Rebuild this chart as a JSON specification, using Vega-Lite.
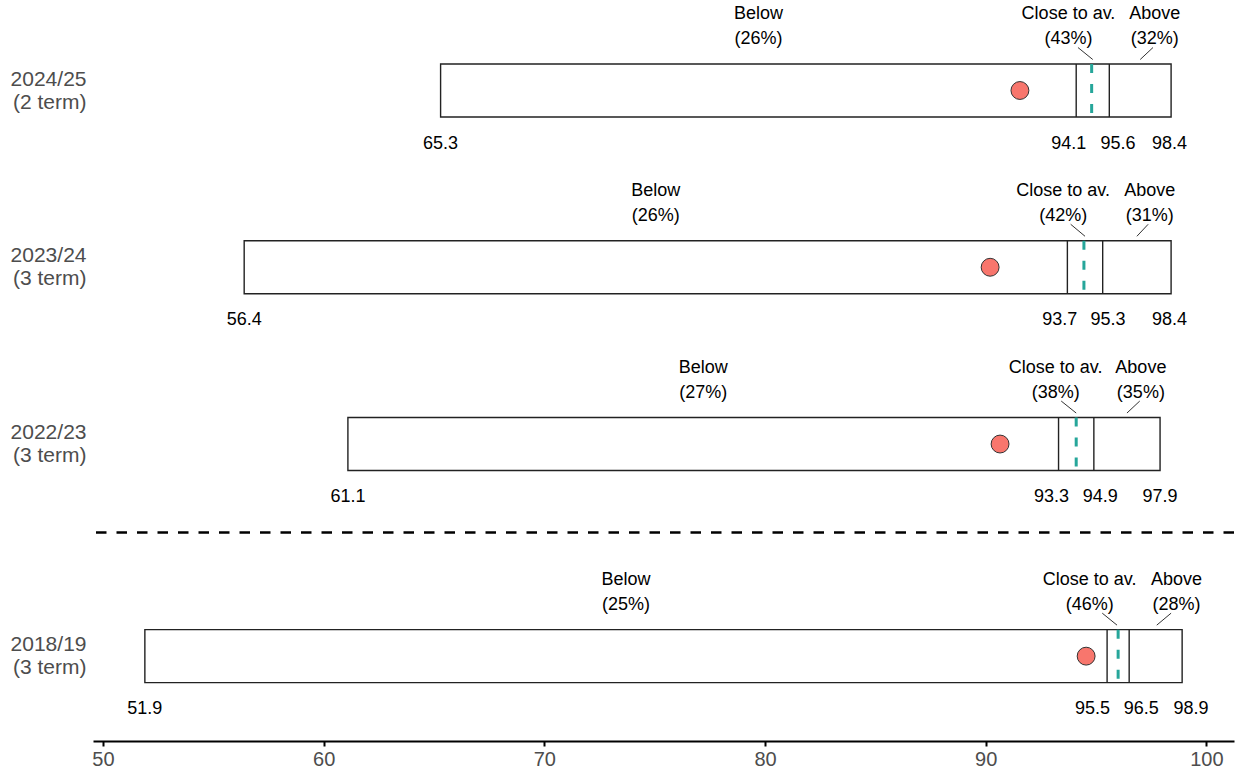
{
  "$schema": "https://vega.github.io/schema/vega-lite/v6.json",
  "width": 1141,
  "height": 741,
  "autosize": "none",
  "padding": {"left": 93, "top": 0, "right": 7, "bottom": 35},
  "background": "white",
  "config": {
    "view": {"stroke": null},
    "font": "Liberation Sans",
    "axis": {"labelFont": "Liberation Sans", "grid": false}
  },
  "datasets": {
    "rows": [
      {"year": "2024/25", "row": 4, "min": 65.3, "lo": 94.1, "hi": 95.6, "max": 98.4, "avg": 94.8, "school": 91.55},
      {"year": "2023/24", "row": 3, "min": 56.4, "lo": 93.7, "hi": 95.3, "max": 98.4, "avg": 94.45, "school": 90.2},
      {"year": "2022/23", "row": 2, "min": 61.1, "lo": 93.3, "hi": 94.9, "max": 97.9, "avg": 94.1, "school": 90.65},
      {"year": "2018/19", "row": 0.8, "min": 51.9, "lo": 95.5, "hi": 96.5, "max": 98.9, "avg": 96.0, "school": 94.55}
    ],
    "toplabels": [
      {"row": 4, "x": 79.7, "label": "Below\n(26%)"},
      {"row": 4, "x": 93.75, "label": "Close to av.\n(43%)", "from": 94.18, "to": 94.85},
      {"row": 4, "x": 97.66, "label": "Above\n(32%)", "from": 97.58, "to": 97.0},
      {"row": 3, "x": 75.05, "label": "Below\n(26%)"},
      {"row": 3, "x": 93.51, "label": "Close to av.\n(42%)", "from": 93.85, "to": 94.5},
      {"row": 3, "x": 97.43, "label": "Above\n(31%)", "from": 97.36, "to": 96.85},
      {"row": 2, "x": 77.2, "label": "Below\n(27%)"},
      {"row": 2, "x": 93.17, "label": "Close to av.\n(38%)", "from": 93.42, "to": 94.1},
      {"row": 2, "x": 97.03, "label": "Above\n(35%)", "from": 96.98, "to": 96.4},
      {"row": 0.8, "x": 73.7, "label": "Below\n(25%)"},
      {"row": 0.8, "x": 94.71, "label": "Close to av.\n(46%)", "from": 95.28, "to": 95.95},
      {"row": 0.8, "x": 98.64, "label": "Above\n(28%)", "from": 98.4, "to": 97.75}
    ],
    "numlabels": [
      {"row": 4, "x": 65.3, "value": "65.3"},
      {"row": 4, "x": 93.76, "value": "94.1"},
      {"row": 4, "x": 95.99, "value": "95.6"},
      {"row": 4, "x": 98.33, "value": "98.4"},
      {"row": 3, "x": 56.4, "value": "56.4"},
      {"row": 3, "x": 93.35, "value": "93.7"},
      {"row": 3, "x": 95.54, "value": "95.3"},
      {"row": 3, "x": 98.33, "value": "98.4"},
      {"row": 2, "x": 61.1, "value": "61.1"},
      {"row": 2, "x": 92.98, "value": "93.3"},
      {"row": 2, "x": 95.19, "value": "94.9"},
      {"row": 2, "x": 97.9, "value": "97.9"},
      {"row": 0.8, "x": 51.9, "value": "51.9"},
      {"row": 0.8, "x": 94.84, "value": "95.5"},
      {"row": 0.8, "x": 97.05, "value": "96.5"},
      {"row": 0.8, "x": 99.3, "value": "98.9"}
    ],
    "separator": [{"row": 1.5}]
  },
  "encoding": {
    "y": {
      "field": "row",
      "type": "quantitative",
      "scale": {"domain": [0.32, 4.512], "nice": false, "zero": false},
      "axis": {
        "values": [4, 3, 2, 0.8],
        "labelExpr": "datum.value == 4 ? ['2024/25', '(2 term)'] : datum.value == 3 ? ['2023/24', '(3 term)'] : datum.value == 2 ? ['2022/23', '(3 term)'] : ['2018/19', '(3 term)']",
        "domain": false,
        "ticks": false,
        "grid": false,
        "labelColor": "#4D4D4D",
        "labelFontSize": 21,
        "labelLineHeight": 23,
        "labelPadding": 7,
        "labelAlign": "right",
        "labelBaseline": "middle",
        "labelOffset": -11.5,
        "title": null
      }
    }
  },
  "layer": [
    {
      "data": {"name": "separator"},
      "mark": {"type": "rule", "color": "black", "strokeWidth": 2.5, "strokeDash": [10.5, 10]},
      "encoding": {}
    },
    {
      "data": {"name": "rows"},
      "mark": {"type": "rect", "fill": "white", "stroke": "#222222", "strokeWidth": 1.4, "yOffset": -26.5, "y2Offset": 26.5},
      "encoding": {
        "x": {
          "field": "min",
          "type": "quantitative",
          "scale": {"domain": [49.55, 101.25], "nice": false, "zero": false},
          "axis": {
            "values": [50, 60, 70, 80, 90, 100],
            "domainColor": "black",
            "domainWidth": 2.2,
            "tickColor": "black",
            "tickWidth": 2,
            "tickSize": 5,
            "labelColor": "#4D4D4D",
            "labelFontSize": 20,
            "labelPadding": 3,
            "grid": false,
            "title": null
          }
        },
        "x2": {"field": "max"},
        "y2": {"field": "row"}
      }
    },
    {
      "data": {"name": "rows"},
      "mark": {"type": "rule", "color": "#222222", "strokeWidth": 1.4, "yOffset": -26.5, "y2Offset": 26.5},
      "encoding": {
        "x": {"field": "lo", "type": "quantitative", "scale": {"domain": [49.55, 101.25], "nice": false, "zero": false}, "title": null},
        "y2": {"field": "row"}
      }
    },
    {
      "data": {"name": "rows"},
      "mark": {"type": "rule", "color": "#222222", "strokeWidth": 1.4, "yOffset": -26.5, "y2Offset": 26.5},
      "encoding": {
        "x": {"field": "hi", "type": "quantitative", "scale": {"domain": [49.55, 101.25], "nice": false, "zero": false}, "title": null},
        "y2": {"field": "row"}
      }
    },
    {
      "data": {"name": "rows"},
      "mark": {"type": "rule", "color": "#26A69A", "strokeWidth": 3, "strokeDash": [9, 11], "yOffset": -26.5, "y2Offset": 26.5},
      "encoding": {
        "x": {"field": "avg", "type": "quantitative", "scale": {"domain": [49.55, 101.25], "nice": false, "zero": false}, "title": null},
        "y2": {"field": "row"}
      }
    },
    {
      "data": {"name": "rows"},
      "mark": {"type": "point", "shape": "circle", "filled": true, "fill": "#F8766D", "stroke": "#333333", "strokeWidth": 1, "size": 320, "opacity": 1},
      "encoding": {
        "x": {"field": "school", "type": "quantitative", "scale": {"domain": [49.55, 101.25], "nice": false, "zero": false}, "title": null}
      }
    },
    {
      "data": {"name": "toplabels"},
      "transform": [{"filter": "isValid(datum.from)"}],
      "mark": {"type": "rule", "color": "#333333", "strokeWidth": 1, "yOffset": -43, "y2Offset": -31},
      "encoding": {
        "x": {"field": "from", "type": "quantitative", "scale": {"domain": [49.55, 101.25], "nice": false, "zero": false}, "title": null},
        "x2": {"field": "to"},
        "y2": {"field": "row"}
      }
    },
    {
      "data": {"name": "toplabels"},
      "mark": {"type": "text", "font": "Liberation Sans", "fontSize": 18, "color": "black", "align": "center", "baseline": "middle", "lineBreak": "\n", "lineHeight": 25, "dy": -76.5},
      "encoding": {
        "x": {"field": "x", "type": "quantitative", "scale": {"domain": [49.55, 101.25], "nice": false, "zero": false}, "title": null},
        "text": {"field": "label"}
      }
    },
    {
      "data": {"name": "numlabels"},
      "mark": {"type": "text", "font": "Liberation Sans", "fontSize": 18, "color": "black", "align": "center", "baseline": "middle", "dy": 53},
      "encoding": {
        "x": {"field": "x", "type": "quantitative", "scale": {"domain": [49.55, 101.25], "nice": false, "zero": false}, "title": null},
        "text": {"field": "value"}
      }
    }
  ]
}
